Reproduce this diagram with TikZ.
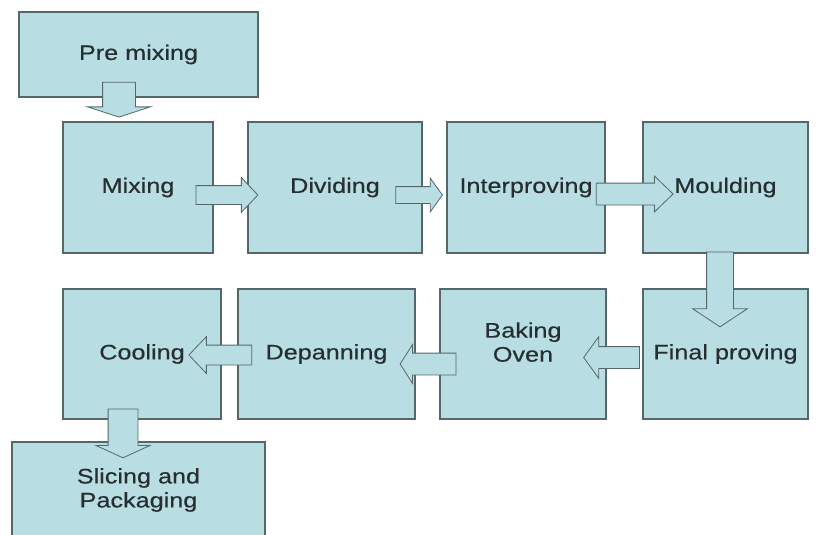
\documentclass[tikz,border=0pt]{standalone}
\usepackage{fontspec}
\newfontfamily\boxfont{Liberation Sans}[FakeStretch=1.2,FakeBold=0.4]
\usetikzlibrary{calc,shapes.arrows}
\definecolor{boxfill}{RGB}{184,221,226}
\definecolor{boxline}{RGB}{84,104,106}
\definecolor{boxtext}{RGB}{38,46,48}
\tikzset{
  stepbox/.style={draw=boxline, fill=boxfill, line width=1.2pt, inner sep=0pt,
    align=center, text=boxtext, font=\boxfont\fontsize{21}{24}\selectfont},
  flowarrow/.style={single arrow, draw=boxline, fill=boxfill, line width=0.8pt,
    inner xsep=0pt, single arrow head indent=0pt},
  % half shaft / head extend / tip angle
  flow/.style args={#1/#2/#3}{to path={let \p1=(\tikztostart), \p2=(\tikztotarget),
    \n1={atan2(\y2-\y1,\x2-\x1)}, \n2={veclen(\x2-\x1,\y2-\y1)} in
    ($(\p1)!0.5!(\p2)$) node[flowarrow, rotate=\n1, minimum height=\n2,
    inner ysep=#1, single arrow head extend=#2, single arrow tip angle=#3] {}}}
}
\begin{document}
\begin{tikzpicture}[x=1pt,y=-1pt]
  \useasboundingbox (0,0) rectangle (817,535);

  % Boxes, top
  \node[stepbox, minimum width=239, minimum height=85] (pre) at (138.5,54.5) {Pre mixing};

  % Boxes, first row
  \node[stepbox, minimum width=150, minimum height=131] (mix) at (138,187.5) {Mixing};
  \node[stepbox, minimum width=174, minimum height=131] (div) at (335,187.5) {Dividing};
  \node[stepbox, minimum width=158, minimum height=131] (int) at (526,187.5) {Interproving};
  \node[stepbox, minimum width=165, minimum height=131] (mou) at (725.5,187.5) {Moulding};

  % Boxes, second row
  \node[stepbox, minimum width=165, minimum height=130] (fin) at (725.5,354) {Final proving};
  \node[stepbox, minimum width=166, minimum height=130, text depth=24pt] (bak) at (523,354) {Baking\\Oven};
  \node[stepbox, minimum width=177, minimum height=130] (dep) at (326.5,354) {Depanning};
  \node[stepbox, minimum width=158, minimum height=130] (cool) at (142,354) {Cooling};

  % Last box
  \node[stepbox, minimum width=253, minimum height=96] (sli) at (138.5,490) {Slicing and\\Packaging};

  % Block arrows
  \path[flow=16/15/144] ([xshift=-19.5pt,yshift=18pt]pre.south) to ([xshift=-19pt,yshift=7pt]mix.north);
  \path[flow=9/8/93] ([xshift=-22pt,yshift=-7.5pt]mix.east) to ([xshift=6pt,yshift=-7.5pt]div.west);
  \path[flow=8/8.5/108] ([xshift=-30pt,yshift=-7.5pt]div.east) to ([xshift=-7pt,yshift=-7.5pt]int.west);
  \path[flow=10.5/7/88] ([xshift=-15pt,yshift=-6.5pt]int.east) to ([xshift=25pt,yshift=-6.5pt]mou.west);
  \path[flow=13/14/113] ([xshift=-5.5pt,yshift=6pt]mou.south) to ([xshift=-5.5pt,yshift=-34pt]fin.north);
  \path[flow=10.5/10/108] ([xshift=1pt,yshift=-3.5pt]fin.west) to ([xshift=-19pt,yshift=-3.5pt]bak.east);
  \path[flow=10.5/8.5/115] ([xshift=20pt,yshift=-10pt]bak.west) to ([xshift=-12pt,yshift=-10pt]dep.east);
  \path[flow=9.5/8.5/93] ([xshift=19pt,yshift=-1pt]dep.west) to ([xshift=-28pt,yshift=-1pt]cool.east);
  \path[flow=14.5/12/131] ([xshift=-19pt,yshift=14pt]cool.south) to ([xshift=-15.5pt,yshift=-13pt]sli.north);
\end{tikzpicture}
\end{document}
